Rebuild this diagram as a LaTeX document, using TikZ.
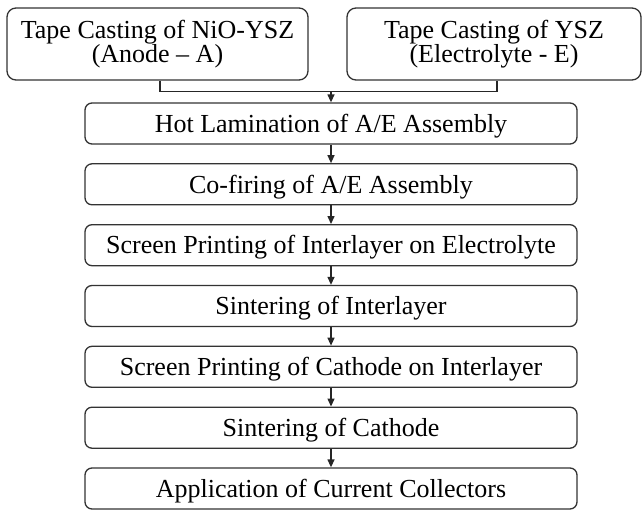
\documentclass[tikz,border=0pt]{standalone}
\usepackage{fontspec}
\setmainfont{Liberation Serif}
\usetikzlibrary{arrows.meta}
\begin{document}
\begin{tikzpicture}[x=1pt,y=-1pt,
  every node/.style={font=\fontsize{26}{24}\selectfont, inner sep=0pt},
  stepbox/.style={draw=black!80, line width=1.3pt, rounded corners=7pt,
    minimum width=492pt, minimum height=41pt, text height=17.4pt, text depth=0pt},
  topbox/.style={draw=black!80, line width=1.3pt, rounded corners=9pt,
    minimum height=72pt, align=center},
  link/.style={draw=black!85, line width=1.3pt, -{Triangle[length=8pt,width=7pt]}},
  plain/.style={draw=black!85, line width=1.3pt}]
\useasboundingbox (0,0) rectangle (642,511);
\node[topbox, minimum width=301pt] (tl) at (157.5,44) {Tape Casting of NiO-YSZ\\(Anode -- A)};
\node[topbox, minimum width=294pt] (tr) at (494,44) {Tape Casting of YSZ\\(Electrolyte - E)};
\node[stepbox] (b1) at (331,123.5) {Hot Lamination of A/E Assembly};
\node[stepbox] (b2) at (331,184.3) {Co-firing of A/E Assembly};
\node[stepbox] (b3) at (331,245.2) {Screen Printing of Interlayer on Electrolyte};
\node[stepbox] (b4) at (331,306) {Sintering of Interlayer};
\node[stepbox] (b5) at (331,366.8) {Screen Printing of Cathode on Interlayer};
\node[stepbox] (b6) at (331,427.7) {Sintering of Cathode};
\node[stepbox] (b7) at (331,488.5) {Application of Current Collectors};
\coordinate (j) at (331,91.5);
\draw[plain] ([xshift=2.5pt]tl.south) |- (j) -| ([xshift=3pt]tr.south);
\draw[link] (j) -- (b1.north);
\draw[link] (b1) -- (b2);
\draw[link] (b2) -- (b3);
\draw[link] (b3) -- (b4);
\draw[link] (b4) -- (b5);
\draw[link] (b5) -- (b6);
\draw[link] (b6) -- (b7);
\end{tikzpicture}
\end{document}
